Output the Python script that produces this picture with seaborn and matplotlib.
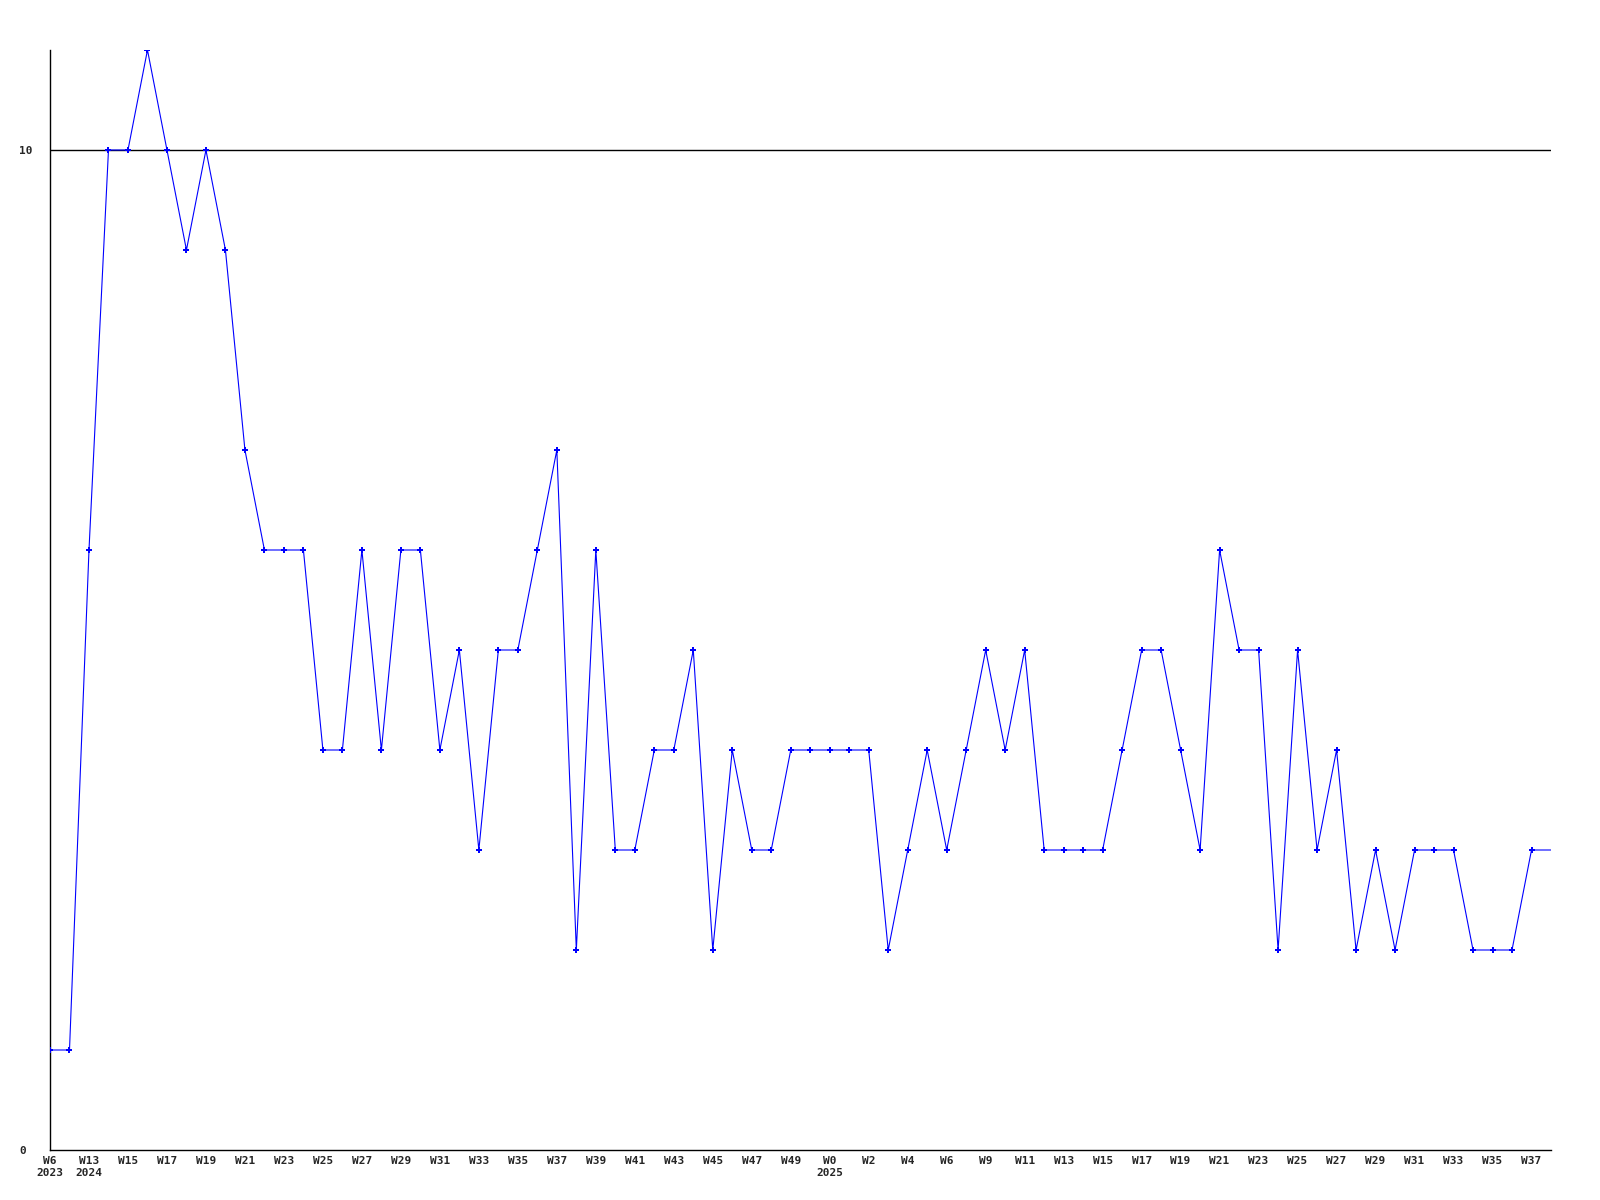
import matplotlib
matplotlib.use("Agg")
import matplotlib.pyplot as plt
import seaborn as sns
import pandas as pd

# Weekly values (one per point); last value continues to the right edge (current week, no marker)
values = [1, 1, 6, 10, 10, 11, 10, 9, 10, 9,
          7, 6, 6, 6, 4, 4, 6, 4, 6, 6,
          4, 5, 3, 5, 5, 6, 7, 2, 6, 3,
          3, 4, 4, 5, 2, 4, 3, 3, 4, 4,
          4, 4, 4, 2, 3, 4, 3, 4, 5, 4,
          5, 3, 3, 3, 3, 4, 5, 5, 4, 3,
          6, 5, 5, 2, 5, 3, 4, 2, 3, 2,
          3, 3, 3, 2, 2, 2, 3]
current_value = [3]

tick_labels = ["W6\n2023", "W13\n2024", "W15", "W17", "W19", "W21", "W23", "W25", "W27",
               "W29", "W31", "W33", "W35", "W37", "W39", "W41", "W43", "W45", "W47",
               "W49", "W0\n2025", "W2", "W4", "W6", "W9", "W11", "W13", "W15", "W17",
               "W19", "W21", "W23", "W25", "W27", "W29", "W31", "W33", "W35", "W37"]

y_ticks = [0, 10]
ref_level = 10

all_vals = values + current_value
df_line = pd.DataFrame({"idx": range(len(all_vals)), "val": all_vals})
df_pts = pd.DataFrame({"idx": range(len(values)), "val": values})

sns.set_style("white")
plt.rcParams["font.family"] = ["DejaVu Sans Mono", "DejaVu Sans"]

fig = plt.figure(figsize=(16, 12), dpi=100)
ax = fig.add_axes([50 / 1600, 50 / 1200, 1501 / 1600, 1100 / 1200])

sns.lineplot(data=df_line, x="idx", y="val", ax=ax, color="#0000FF", linewidth=0.8)
sns.scatterplot(data=df_pts, x="idx", y="val", ax=ax, color="#0000FF", marker="P",
                s=18, linewidth=0, zorder=3)

ax.axhline(ref_level, color="black", linewidth=1.0, zorder=1)

ax.set_xlim(0, len(values))
ax.set_ylim(0, 11)

ax.set_xticks(range(0, 2 * len(tick_labels), 2))
ax.set_xticklabels(tick_labels, fontsize=8, fontweight="bold", linespacing=1.35)
ax.set_yticks(y_ticks)
ax.set_yticklabels([str(v) for v in y_ticks], fontsize=8, fontweight="bold", ha="left")

ax.tick_params(axis="x", length=0, pad=4)
ax.tick_params(axis="y", length=0, pad=22)

for s in ["top", "right"]:
    ax.spines[s].set_visible(False)
for s in ["left", "bottom"]:
    ax.spines[s].set_color("black")
    ax.spines[s].set_linewidth(1.0)

ax.set_xlabel("")
ax.set_ylabel("")
ax.grid(False)

fig.savefig("out.png", dpi=100, facecolor="white")
